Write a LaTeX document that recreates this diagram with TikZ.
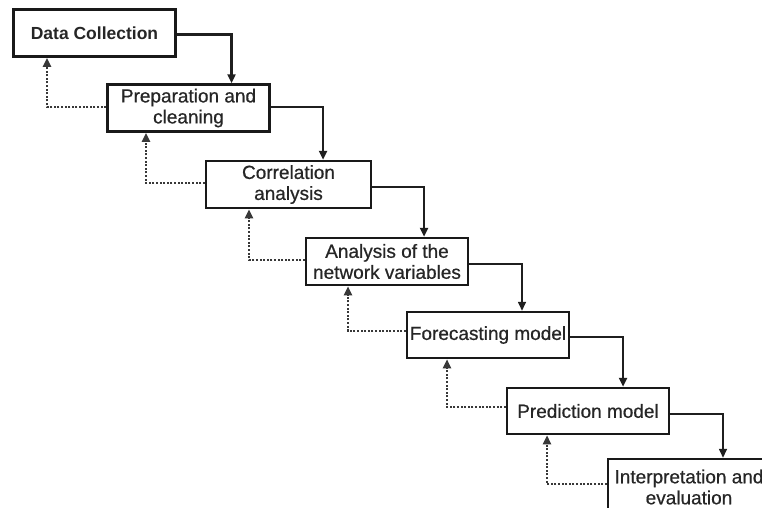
\documentclass[tikz,border=0pt]{standalone}
\usepackage{fontspec}
\setmainfont{Liberation Sans}
\newfontfamily\boxfont{Liberation Sans}[FakeBold=0.6]
\usetikzlibrary{arrows.meta}
\tikzset{
  box/.style={draw=black!90, line width=2.5pt, minimum width=162pt, minimum height=47pt,
    inner sep=0pt, align=center, text=black!85, font=\boxfont\fontsize{19}{21}\selectfont},
  conn/.style={draw=black!88, line width=2.5pt, -{Triangle[length=9pt,width=8pt]}},
  thinconn/.style={conn, line width=1.6pt},
  fb/.style={draw=black!78, line width=2.5pt, dash pattern=on 2pt off 1.6pt,
    -{Triangle[length=9pt,width=8pt]}}
}
\begin{document}
\begin{tikzpicture}[x=1pt,y=-1pt]
\useasboundingbox (0,0) rectangle (762,507);
\clip (0,0) rectangle (762,507);
\fill[white] (0,0) rectangle (762,507);
\node[box, font=\fontsize{17.5}{21}\selectfont\bfseries] (b1) at (94.5,33) {Data Collection};
\node[box] (b2) at (188.5,108) {Preparation and\\cleaning};
\node[box, minimum width=165pt] (b3) at (288.5,184.5) {Correlation\\analysis};
\node[box] (b4) at (387,261.5) {Analysis of the\\network variables};
\node[box, minimum height=46pt] (b5) at (488,335) {Forecasting model};
\node[box, minimum height=46pt] (b6) at (588,411) {Prediction model};
\node[box, minimum height=56pt] (b7) at (689,487) {Interpretation and\\evaluation};
% forward connectors
\draw[conn] ([yshift=-1.5pt]b1.east) -| ([xshift=43pt]b2.north);
\draw[conn] ([yshift=1pt]b2.east) -| ([xshift=34.5pt]b3.north);
\draw[conn] ([yshift=-2.5pt]b3.east) -| ([xshift=37pt]b4.north);
\draw[thinconn] ([yshift=-2.5pt]b4.east) -| ([xshift=34pt]b5.north);
\draw[conn] ([yshift=-2pt]b5.east) -| ([xshift=35pt]b6.north);
\draw[thinconn] ([yshift=-3pt]b6.east) -| ([xshift=34pt]b7.north);
% feedback connectors
\draw[fb] ([yshift=1pt]b2.west) -| ([xshift=-47.5pt]b1.south);
\draw[fb] ([yshift=1.5pt]b3.west) -| ([xshift=-42.5pt]b2.south);
\draw[fb] ([yshift=1.5pt]b4.west) -| ([xshift=-39.5pt]b3.south);
\draw[fb] ([yshift=4pt]b5.west) -| ([xshift=-39pt]b4.south);
\draw[fb] ([yshift=4pt]b6.west) -| ([xshift=-41pt]b5.south);
\draw[fb] ([yshift=3pt]b7.west) -| ([xshift=-41pt]b6.south);
\end{tikzpicture}
\end{document}
